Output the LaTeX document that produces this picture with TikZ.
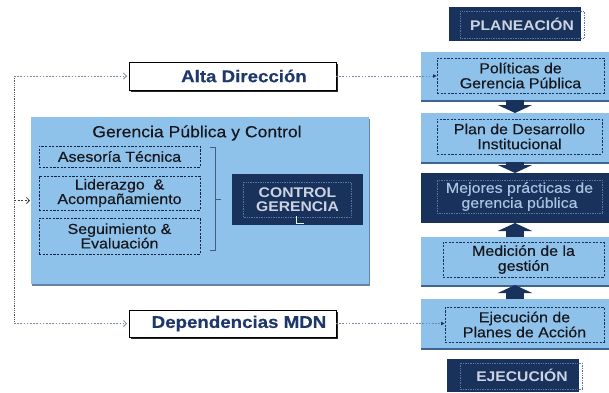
\documentclass[tikz,border=0pt]{standalone}
\usepackage{fontspec}
\setmainfont{Liberation Sans}[FakeStretch=1.1, FakeBold=0.35]
\newfontfamily\capsfont{Liberation Sans}[FakeStretch=1.12]
\usetikzlibrary{arrows.meta,calc,shadows}
\definecolor{navy}{RGB}{24,50,92}
\definecolor{lblue}{RGB}{142,194,234}
\definecolor{edgeblue}{RGB}{62,100,148}
\definecolor{dotgray}{RGB}{125,135,155}
\definecolor{titlenavy}{RGB}{30,56,108}
\definecolor{paletext}{RGB}{170,195,225}
\definecolor{ctrltext}{RGB}{205,212,225}
\definecolor{innerdot}{RGB}{88,118,165}
\definecolor{inktext}{RGB}{22,22,28}
\begin{document}
\begin{tikzpicture}[x=1pt,y=-1pt,
  every node/.style={inner sep=0pt, outer sep=0pt},
  band/.style={fill=lblue, anchor=north west,
    drop shadow={shadow xshift=0pt, shadow yshift=-2pt, fill=edgeblue, opacity=1}},
  darkband/.style={fill=navy, anchor=north west},
  innerbox/.style={draw=navy, dash pattern=on 2.2pt off 1.4pt, line width=0.8pt, anchor=north west,
    align=center, text=inktext, font=\fontsize{14.5}{15}\selectfont},
  paleinner/.style={draw=innerdot, densely dotted, line width=0.7pt, anchor=north west,
    align=center, text=paletext, font=\fontsize{14.5}{15}\selectfont},
  subbox/.style={draw=navy!70!black, dash pattern=on 2.2pt off 1.4pt, line width=0.8pt, anchor=north west,
    align=center, text=inktext, font=\fontsize{14.5}{14.5}\selectfont},
  capbox/.style={fill=navy, anchor=north west, align=center, text=ctrltext,
    font=\capsfont\bfseries\fontsize{14}{14}\selectfont},
  whitebox/.style={draw=black, line width=0.9pt, fill=white, anchor=north west,
    text=titlenavy, font=\bfseries\fontsize{17}{17}\selectfont,
    drop shadow={shadow xshift=1.8pt, shadow yshift=-1.8pt, fill=black!85, opacity=1}},
  panelbox/.style={fill=lblue, anchor=north west,
    drop shadow={shadow xshift=1pt, shadow yshift=-2pt, fill=edgeblue!80, opacity=1}},
  innerdotted/.style={draw=innerdot, densely dotted, line width=0.7pt},
  leftdot/.style={draw=black!65, densely dotted, line width=0.8pt},
  linkdash/.style={draw=dotgray, dash pattern=on 1.6pt off 1.6pt, line width=0.8pt},
  blockarrow/.style={draw=navy, line width=18pt, -{Triangle[length=8pt,width=34pt]}}
]
\path[use as bounding box, fill=white] (0,0) rectangle (609,392);

% ---------- right column ----------
\node[capbox, minimum width=132pt, minimum height=34pt] (planea) at (449,7) {\hspace*{14pt}PLANEACIÓN};
\draw[innerdotted] (460,11) rectangle (584,38);

\node[band, minimum width=188pt, minimum height=48pt] (pol) at (421,52) {};
\node[innerbox, minimum width=167pt, minimum height=35pt] (polin) at (437,58) {Políticas de\\Gerencia Pública};

\node[band, minimum width=188pt, minimum height=49pt] (plan) at (421,113) {};
\node[innerbox, minimum width=165pt, minimum height=35pt] (planin) at (437,119) {Plan de Desarrollo\\Institucional};

\node[darkband, minimum width=188pt, minimum height=50pt] (mej) at (421,173) {};
\node[paleinner, minimum width=165pt, minimum height=33pt] (mejin) at (437,180) {Mejores prácticas de\\gerencia pública};

\node[band, minimum width=188pt, minimum height=48pt] (med) at (421,237) {};
\node[innerbox, minimum width=161pt, minimum height=35pt] (medin) at (443,242) {Medición de la\\gestión};

\node[band, minimum width=188pt, minimum height=49pt] (eje) at (421,299) {};
\node[innerbox, minimum width=159pt, minimum height=35pt] (ejein) at (445,307) {Ejecución de\\Planes de Acción};

\node[capbox, minimum width=132pt, minimum height=33pt] (ejecu) at (447,359) {\hspace*{18pt}EJECUCIÓN};
\draw[innerdotted] (460,363) rectangle (582,389);

\draw[blockarrow] (pol.south) -- (plan.north);
\draw[blockarrow] (plan.south) -- (mej.north);
\draw[blockarrow] (med.north) -- (mej.south);
\draw[blockarrow] (eje.north) -- (med.south);

% ---------- left side ----------
\node[whitebox, minimum width=207pt, minimum height=28pt] (alta) at (129,62) {\hspace*{23pt}Alta Dirección};
\node[whitebox, minimum width=207pt, minimum height=27pt] (dep) at (129,310) {\hspace*{13pt}Dependencias MDN};

\node[panelbox, minimum width=338pt, minimum height=167pt] (panel) at (31,117) {};
\node[text=inktext, font=\fontsize{16}{16}\selectfont] (ptitle) at (197,133) {Gerencia Pública y Control};

\node[subbox, minimum width=161pt, minimum height=21pt] (ases) at (39,146) {Asesoría Técnica};
\node[subbox, minimum width=161pt, minimum height=34pt] (lid) at (39,176) {Liderazgo \ \&\\Acompañamiento};
\node[subbox, minimum width=161pt, minimum height=36pt] (seg) at (39,218) {Seguimiento \&\\Evaluación};

\draw[draw=navy!80, line width=0.8pt] (210,147) -- (215,147) -- (215,250) -- (210,250)
  (215,199) -- (221,199);

\node[capbox, minimum width=131pt, minimum height=51pt] (ctrl) at (232,174) {CONTROL\\GERENCIA};
\draw[innerdotted] (243,182) rectangle (351,217);
\draw[white!80!lblue, line width=0.8pt] (296,216) -- (296,223) -- (304,223);

% ---------- connectors ----------
\coordinate (ltop) at (14,76);
\coordinate (lmid) at (14,200.5);
\coordinate (lbot) at (14,323.5);
\draw[leftdot] (ltop) -- (lbot);
\draw[linkdash, -{Straight Barb[length=3pt,width=6pt]}] (ltop) -- ([xshift=-2pt]alta.west);
\draw[linkdash, -{Straight Barb[length=3pt,width=6pt]}] (lbot) -- ([xshift=-2pt]dep.west);
\draw[draw=black!75, dash pattern=on 2pt off 1.5pt, line width=0.8pt, -{Straight Barb[length=3pt,width=6pt]}] (lmid) -- ([xshift=-1pt]panel.west);

\draw[linkdash, -{Latex[length=4pt,width=4pt,color=navy]}] (alta.east) -- (alta.east -| polin.west);
\draw[linkdash, -{Latex[length=4pt,width=4pt,color=navy]}] (dep.east) -- (dep.east -| ejein.west);
\end{tikzpicture}
\end{document}
